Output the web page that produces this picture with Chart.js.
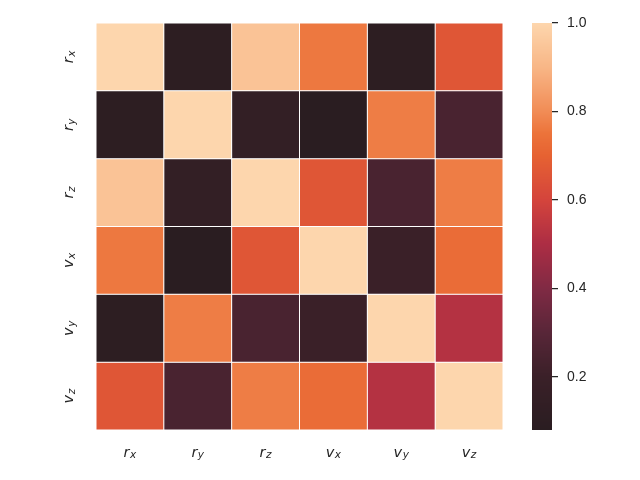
<!DOCTYPE html>
<html>
<head>
<meta charset="utf-8">
<script src="https://cdn.jsdelivr.net/npm/chart.js@4/dist/chart.umd.min.js"></script>
<style>
html,body{margin:0;padding:0;background:#fff;}
#wrap{width:640px;height:480px;}
</style>
</head>
<body>
<div id="wrap"><canvas id="c" width="640" height="480"></canvas></div>
<script>
// ---- data ----
const variableNames = ['r_x', 'r_y', 'r_z', 'v_x', 'v_y', 'v_z'];
const rowRx = [1.00, 0.10, 0.94, 0.76, 0.10, 0.66];
const rowRy = [0.10, 1.00, 0.15, 0.08, 0.77, 0.25];
const rowRz = [0.94, 0.15, 1.00, 0.66, 0.25, 0.77];
const rowVx = [0.76, 0.08, 0.66, 1.00, 0.20, 0.73];
const rowVy = [0.10, 0.77, 0.25, 0.20, 1.00, 0.52];
const rowVz = [0.66, 0.25, 0.77, 0.73, 0.52, 1.00];
const colorbarTicks = [0.2, 0.4, 0.6, 0.8, 1.0];

const rows = [rowRx, rowRy, rowRz, rowVx, rowVy, rowVz];
const vMin = Math.min(...rows.flat());
const vMax = Math.max(...rows.flat());

// ---- colormap (style) ----
const cmapStops = [
  [0.08, [42, 29, 33]],
  [0.20, [58, 32, 40]],
  [0.30, [88, 38, 56]],
  [0.40, [128, 42, 68]],
  [0.50, [172, 45, 68]],
  [0.60, [212, 68, 60]],
  [0.70, [230, 98, 50]],
  [0.75, [236, 115, 58]],
  [0.80, [241, 140, 86]],
  [0.90, [248, 182, 134]],
  [1.00, [253, 214, 173]]
];
function cmap(v) {
  if (v <= cmapStops[0][0]) return 'rgb(' + cmapStops[0][1].join(',') + ')';
  for (let k = 1; k < cmapStops.length; k++) {
    const [v1, c1] = cmapStops[k];
    const [v0, c0] = cmapStops[k - 1];
    if (v <= v1) {
      const t = (v - v0) / (v1 - v0);
      const c = c0.map((a, i) => Math.round(a + (c1[i] - a) * t));
      return 'rgb(' + c.join(',') + ')';
    }
  }
  return 'rgb(' + cmapStops[cmapStops.length - 1][1].join(',') + ')';
}

const datasets = rows.map((vals, i) => ({
  label: variableNames[i],
  data: vals.map(() => [i, i + 1]),
  backgroundColor: vals.map(v => cmap(v)),
  borderColor: '#ffffff',
  borderWidth: 0.5,
  borderSkipped: false,
  inflateAmount: 0,
  grouped: false,
  barPercentage: 1,
  categoryPercentage: 1,
  yAxisID: 'y'
}));

const textColor = '#262626';

const labelPlugin = {
  id: 'labels',
  afterDraw(chart) {
    const ctx = chart.ctx;
    const xs = chart.scales.x, ys = chart.scales.y, cb = chart.scales.cb;
    // colorbar
    ctx.save();
    ctx.fillStyle = '#ffffff';
    ctx.fillRect(chart.chartArea.right, cb.top - 3, 552 - chart.chartArea.right, cb.bottom - cb.top + 6);
    for (let py = Math.round(cb.top); py < Math.round(cb.bottom); py++) {
      ctx.fillStyle = cmap(cb.getValueForPixel(py + 0.5));
      ctx.fillRect(532, py, 20, 1);
    }
    ctx.restore();

    const mainFont = 'oblique 14.5px "DejaVu Sans"';
    const subFont = 'oblique 10.5px "DejaVu Sans"';
    function drawLabel(name, cx, baseline) {
      const [b, s] = name.split('_');
      ctx.font = mainFont;
      const wb = ctx.measureText(b).width;
      ctx.font = subFont;
      const ws = ctx.measureText(s).width;
      const start = cx - (wb + ws + 0.5) / 2;
      ctx.fillStyle = textColor;
      ctx.textAlign = 'left';
      ctx.textBaseline = 'alphabetic';
      ctx.font = mainFont;
      ctx.fillText(b, start, baseline);
      ctx.font = subFont;
      ctx.fillText(s, start + wb + 0.5, baseline + 1.6);
    }
    ctx.save();
    variableNames.forEach((name, j) => {
      drawLabel(name, xs.getPixelForValue(j), 456.7);
    });
    ctx.restore();
    variableNames.forEach((name, i) => {
      const cy = ys.getPixelForValue(i + 0.5);
      ctx.save();
      ctx.translate(73.3, cy);
      ctx.rotate(-Math.PI / 2);
      drawLabel(name, 0, 0);
      ctx.restore();
    });
  }
};

new Chart(document.getElementById('c'), {
  type: 'bar',
  data: { labels: variableNames, datasets },
  options: {
    responsive: false,
    animation: false,
    events: [],
    layout: { padding: { top: 23, left: 0, right: 0, bottom: 0 } },
    plugins: { legend: { display: false }, tooltip: { enabled: false } },
    scales: {
      x: {
        type: 'category',
        offset: true,
        grid: { display: false },
        border: { display: false },
        ticks: { display: false },
        afterFit(s) { s.height = 50; }
      },
      y: {
        type: 'linear',
        position: 'left',
        min: 0, max: 6,
        reverse: true,
        grid: { display: false },
        border: { display: false },
        ticks: { display: false },
        afterFit(s) { s.width = 96; }
      },
      cb: {
        type: 'linear',
        position: 'right',
        min: vMin, max: vMax,
        afterBuildTicks(s) { s.ticks = colorbarTicks.map(v => ({ value: v })); },
        grid: {
          display: true,
          drawOnChartArea: false,
          drawTicks: true,
          tickLength: 55,
          color: textColor,
          lineWidth: 1.25
        },
        border: { display: false },
        ticks: {
          padding: 9,
          color: textColor,
          font: { family: '"Liberation Sans", Arial, sans-serif', size: 14 },
          callback: v => v.toFixed(1)
        },
        afterFit(s) { s.width = 137; }
      }
    }
  },
  plugins: [labelPlugin]
});
</script>
</body>
</html>
